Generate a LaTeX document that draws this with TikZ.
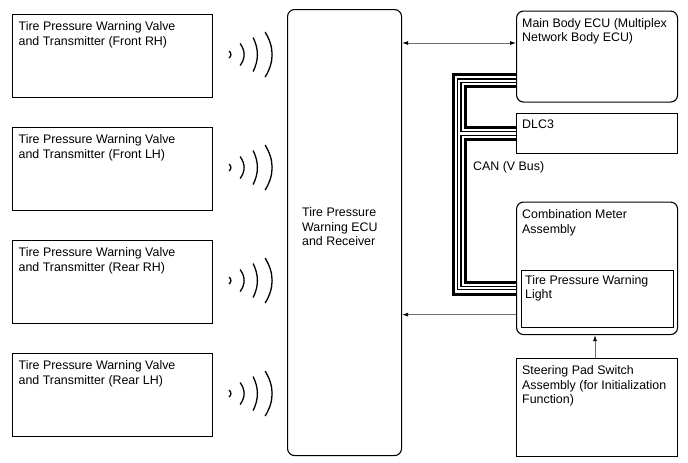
\documentclass[tikz,border=0pt]{standalone}
\usepackage{fontspec}
\setmainfont{Liberation Sans}
\usepackage{tikz}
\usepackage{xcolor}
\usetikzlibrary{arrows.meta, positioning}
\definecolor{sigline}{RGB}{110, 110, 110}

\tikzset{
  blk/.style={draw, line width=1.1pt, anchor=north west, inner sep=0pt},
  rblk/.style={blk, rounded corners=7pt},
  lbl/.style={anchor=north west, inner sep=0pt, align=left,
    font=\fontsize{12.4}{14.5}\selectfont},
  sig/.style={draw=sigline, line width=0.8pt},
  wave/.style={line width=1.3pt},
}

\begin{document}
\begin{tikzpicture}[x=1pt, y=-1pt, >={Latex[length=6pt, width=4pt, color=black]}]
  \useasboundingbox (0,0) rectangle (688,463);

  % transmitters with radio waves
  \foreach \i/\y/\pos in {1/14/Front RH, 2/127/Front LH, 3/240/Rear RH, 4/353/Rear LH} {
    \node[blk, minimum width=200pt, minimum height=83pt] (tx\i) at (12,\y) {};
    \node[lbl, below right=7.5pt and 6.5pt of tx\i.north west] (tx\i txt)
      {Tire Pressure Warning Valve\\and Transmitter (\pos)};
    \coordinate (w\i) at ([yshift=1.5pt]tx\i.east);
    \foreach \dx/\s/\h in {16/1.8/3.5, 27/4/11, 40/4.3/17, 52/7/22.5}
      \draw[wave] ([shift={(\dx,-\h)}]w\i)
        .. controls +({4*\s/3},{2*\h/3}) and +({4*\s/3},{-2*\h/3}) .. ([shift={(\dx,\h)}]w\i);
  }

  % receiver ECU
  \node[rblk, minimum width=114pt, minimum height=446pt] (ecu) at (287,9) {};
  \node[lbl, anchor=west] (ecutxt) at (302,227) {Tire Pressure\\Warning ECU\\and Receiver};

  % right column
  \node[rblk, minimum width=161pt, minimum height=91pt] (mbecu) at (516,10.5) {};
  \node[lbl, below right=7.5pt and 6pt of mbecu.north west] (mbecutxt)
    {Main Body ECU (Multiplex\\Network Body ECU)};

  \node[blk, minimum width=161pt, minimum height=40pt] (dlc) at (516,113) {};
  \node[lbl, below right=7pt and 6pt of dlc.north west] (dlctxt) {DLC3};

  \node[rblk, minimum width=161pt, minimum height=132.5pt] (comb) at (516,201.5) {};
  \node[lbl, below right=8pt and 6pt of comb.north west] (combtxt)
    {Combination Meter\\Assembly};
  \node[blk, minimum width=152pt, minimum height=57pt] (lamp) at (521,269.5) {};
  \node[lbl, below right=5.5pt and 4pt of lamp.north west] (lamptxt)
    {Tire Pressure Warning\\Light};

  \node[blk, minimum width=161pt, minimum height=98pt] (steer) at (516,358) {};
  \node[lbl, below right=7.5pt and 6pt of steer.north west] (steertxt)
    {Steering Pad Switch\\Assembly (for Initialization\\Function)};

  % CAN bus
  \coordinate (bus1) at ([yshift=22pt]mbecu.south west);
  \coordinate (bus2) at (dlc.west);
  \coordinate (bus3) at ([yshift=47pt]comb.south west);
  \coordinate (busx) at (459.3,0);
  \foreach \w/\c in {15/black, 9/white, 4.5/black, 2.2/white}
    \draw[line width=\w pt, \c] (bus1) -- (bus1 -| busx) |- (bus3)
      (bus2 -| busx) -- (bus2);
  \node[lbl, anchor=west] (canlbl) at (473,167) {CAN (V Bus)};

  % signal lines
  \coordinate (a1) at ([yshift=-32.5pt]mbecu.north west);
  \draw[sig, <->] (a1 -| ecu.east) -- (a1);
  \coordinate (a2) at ([yshift=20.5pt]comb.south west);
  \draw[sig, ->] (a2) -- (a2 -| ecu.east);
  \coordinate (a3) at ([xshift=79pt]steer.north west);
  \draw[sig, ->] (a3) -- (a3 |- comb.south);
\end{tikzpicture}
\end{document}
